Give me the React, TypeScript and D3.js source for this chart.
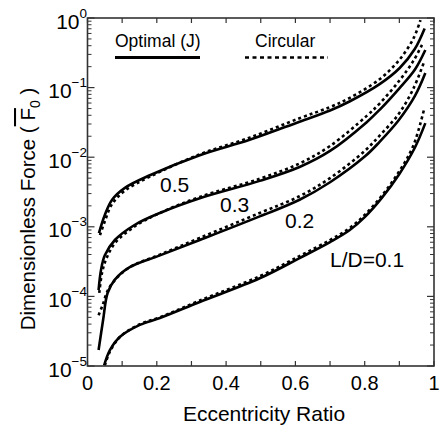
import React from "react";
import * as d3 from "d3";

// ---- data ----
const optimal05Ecc = [0.033, 0.05, 0.071, 0.108, 0.18, 0.324, 0.468, 0.612, 0.70, 0.756, 0.843, 0.901, 0.944, 0.973];
const optimal05Force = [8.13e-4, 1.48e-3, 2.45e-3, 3.63e-3, 5.5e-3, 1.07e-2, 1.78e-2, 3.24e-2, 4.68e-2, 6.31e-2, 0.112, 0.191, 0.355, 0.708];
const circular05Ecc = [0.036, 0.05, 0.07, 0.108, 0.18, 0.324, 0.468, 0.612, 0.70, 0.756, 0.843, 0.90, 0.94, 0.961];
const circular05Force = [7.59e-4, 1.2e-3, 2.09e-3, 3.31e-3, 5.25e-3, 1.1e-2, 1.91e-2, 3.63e-2, 5.25e-2, 7.08e-2, 0.132, 0.251, 0.501, 0.933];

const optimal03Ecc = [0.032, 0.039, 0.05, 0.079, 0.137, 0.209, 0.324, 0.497, 0.612, 0.70, 0.805, 0.843, 0.90, 0.945, 0.975];
const optimal03Force = [1.23e-4, 2.4e-4, 3.89e-4, 6.46e-4, 1.07e-3, 1.58e-3, 2.57e-3, 4.57e-3, 7.24e-3, 1.23e-2, 3.16e-2, 4.79e-2, 9.77e-2, 0.182, 0.347];
const circular03Ecc = [0.034, 0.042, 0.055, 0.08, 0.137, 0.209, 0.324, 0.497, 0.612, 0.70, 0.805, 0.843, 0.90, 0.94, 0.968];
const circular03Force = [1.12e-4, 2.19e-4, 3.55e-4, 5.89e-4, 1.02e-3, 1.58e-3, 2.69e-3, 4.9e-3, 8.13e-3, 1.45e-2, 3.89e-2, 5.89e-2, 0.126, 0.24, 0.437];

const optimal02Ecc = [0.032, 0.045, 0.058, 0.079, 0.122, 0.209, 0.324, 0.497, 0.612, 0.70, 0.80, 0.843, 0.898, 0.945, 0.975];
const optimal02Force = [1.7e-5, 4.57e-5, 1.12e-4, 1.74e-4, 2.63e-4, 3.89e-4, 6.46e-4, 1.41e-3, 2.45e-3, 4.37e-3, 1.02e-2, 1.66e-2, 3.39e-2, 7.59e-2, 0.162];
const circular02Ecc = [0.032, 0.044, 0.058, 0.08, 0.122, 0.209, 0.324, 0.497, 0.612, 0.70, 0.80, 0.843, 0.898, 0.94, 0.97];
const circular02Force = [5.37e-5, 7.59e-5, 1.2e-4, 1.74e-4, 2.63e-4, 3.98e-4, 6.92e-4, 1.58e-3, 2.75e-3, 5.01e-3, 1.23e-2, 2.04e-2, 4.17e-2, 9.55e-2, 0.224];

const optimal01Ecc = [0.048, 0.065, 0.094, 0.151, 0.209, 0.324, 0.497, 0.612, 0.70, 0.756, 0.80, 0.85, 0.90, 0.945, 0.975];
const optimal01Force = [1.02e-5, 1.7e-5, 2.63e-5, 3.89e-5, 4.9e-5, 8.32e-5, 1.82e-4, 3.55e-4, 6.03e-4, 8.91e-4, 1.38e-3, 2.63e-3, 5.75e-3, 1.38e-2, 3.09e-2];
const circular01Ecc = [0.05, 0.065, 0.094, 0.151, 0.209, 0.324, 0.497, 0.612, 0.70, 0.756, 0.80, 0.85, 0.90, 0.94, 0.972];
const circular01Force = [1.02e-5, 1.62e-5, 2.63e-5, 3.98e-5, 5.01e-5, 8.71e-5, 1.95e-4, 3.8e-4, 6.46e-4, 9.55e-4, 1.48e-3, 2.82e-3, 6.31e-3, 1.45e-2, 5.01e-2];

const xTickValues = [0, 0.2, 0.4, 0.6, 0.8, 1];
const xTickLabels = ["0", "0.2", "0.4", "0.6", "0.8", "1"];
const yDecades = [0, -1, -2, -3, -4, -5];
const curveLabels = ["0.5", "0.3", "0.2", "L/D=0.1"];
const legendLabels = ["Optimal (J)", "Circular"];

const W = 441;
const H = 428;
const M = { left: 87.5, right: 434, top: 18, bottom: 366 };
const FONT = "'Liberation Sans', Arial, Helvetica, sans-serif";
const AXIS = "#333";

export default function App() {
  const x = d3.scaleLinear().domain([0, 1]).range([M.left, M.right]);
  const y = d3.scaleLog().domain([1e-5, 1]).range([M.bottom, M.top]);

  const line = (ex: number[], fy: number[]) =>
    d3
      .line<number>()
      .x((_, i) => x(ex[i]))
      .y((v) => y(v))
      .curve(d3.curveCatmullRom.alpha(0.5))(fy) as string;

  const series = [
    { e: optimal05Ecc, f: optimal05Force, dashed: false },
    { e: circular05Ecc, f: circular05Force, dashed: true },
    { e: optimal03Ecc, f: optimal03Force, dashed: false },
    { e: circular03Ecc, f: circular03Force, dashed: true },
    { e: optimal02Ecc, f: optimal02Force, dashed: false },
    { e: circular02Ecc, f: circular02Force, dashed: true },
    { e: optimal01Ecc, f: optimal01Force, dashed: false },
    { e: circular01Ecc, f: circular01Force, dashed: true },
  ];

  const xMinor = d3.range(0, 11).map((i) => i / 10);
  const yMinor: number[] = [];
  for (let k = -5; k < 0; k++) for (let m = 2; m <= 9; m++) yMinor.push(m * Math.pow(10, k));

  const labelPos = [
    { x: 160, y: 192 },
    { x: 220, y: 212 },
    { x: 285, y: 228 },
    { x: 330, y: 267 },
  ];

  return (
    <svg width={W} height={H} style={{ position: "absolute", left: 0, top: 0, background: "#fff" }} fontFamily={FONT}>
      <defs>
        <clipPath id="plotclip">
          <rect x={M.left} y={M.top - 2} width={M.right - M.left} height={M.bottom - M.top + 2} />
        </clipPath>
      </defs>
      <rect x={0} y={0} width={W} height={H} fill="#fff" />

      {/* curves */}
      <g clipPath="url(#plotclip)">
        {series.map((s, i) => (
          <path
            key={i}
            d={line(s.e, s.f)}
            fill="none"
            stroke="#000"
            strokeWidth={2.6}
            strokeDasharray={s.dashed ? "3,3" : undefined}
          />
        ))}
      </g>

      {/* frame */}
      <rect x={M.left} y={M.top} width={M.right - M.left} height={M.bottom - M.top} fill="none" stroke={AXIS} strokeWidth={1.6} />

      {/* x ticks */}
      {xMinor.map((v, i) => (
        <g key={"xt" + i} stroke={AXIS} strokeWidth={1.2}>
          <line x1={x(v)} x2={x(v)} y1={M.bottom} y2={M.bottom - 5} />
          <line x1={x(v)} x2={x(v)} y1={M.top} y2={M.top + 5} />
        </g>
      ))}
      {xTickValues.map((v, i) => (
        <text key={"xl" + i} x={x(v)} y={390} textAnchor="middle" fontSize={20} fill="#000">
          {xTickLabels[i]}
        </text>
      ))}

      {/* y ticks */}
      {yDecades.map((k) => (
        <g key={"ym" + k} stroke={AXIS} strokeWidth={1.2}>
          <line x1={M.left} x2={M.left + 7} y1={y(Math.pow(10, k))} y2={y(Math.pow(10, k))} />
          <line x1={M.right} x2={M.right - 7} y1={y(Math.pow(10, k))} y2={y(Math.pow(10, k))} />
        </g>
      ))}
      {yMinor.map((v, i) => (
        <g key={"yn" + i} stroke={AXIS} strokeWidth={1}>
          <line x1={M.left} x2={M.left + 4} y1={y(v)} y2={y(v)} />
          <line x1={M.right} x2={M.right - 4} y1={y(v)} y2={y(v)} />
        </g>
      ))}
      {yDecades.map((k) => (
        <text key={"yl" + k} x={87} y={y(Math.pow(10, k)) + 10.5} textAnchor="end" fontSize={21} fill="#000">
          10
          <tspan dy={-11} fontSize={13.5}>
            {k === 0 ? "0" : "\u2212" + Math.abs(k)}
          </tspan>
        </text>
      ))}

      {/* axis titles */}
      <text x={264} y={421} textAnchor="middle" fontSize={21} fill="#000">
        Eccentricity Ratio
      </text>
      <text transform="translate(35,209) rotate(-90)" textAnchor="middle" fontSize={20.5} fill="#000">
        Dimensionless Force (
        <tspan style={{ textDecoration: "overline" }}> F</tspan>
        <tspan dy={5} fontSize={14}>0</tspan>
        <tspan dy={-5}> )</tspan>
      </text>

      {/* curve labels */}
      {curveLabels.map((t, i) => (
        <text key={"cl" + i} x={labelPos[i].x} y={labelPos[i].y} fontSize={21} fill="#000">
          {t}
        </text>
      ))}

      {/* legend */}
      <text x={115} y={47} fontSize={17.5} fill="#000">{legendLabels[0]}</text>
      <line x1={115} x2={200} y1={57.5} y2={57.5} stroke="#000" strokeWidth={2.8} />
      <text x={255} y={47} fontSize={17.5} fill="#000">{legendLabels[1]}</text>
      <line x1={245} x2={328} y1={57.5} y2={57.5} stroke="#000" strokeWidth={2.6} strokeDasharray="4,3.5" />
    </svg>
  );
}
